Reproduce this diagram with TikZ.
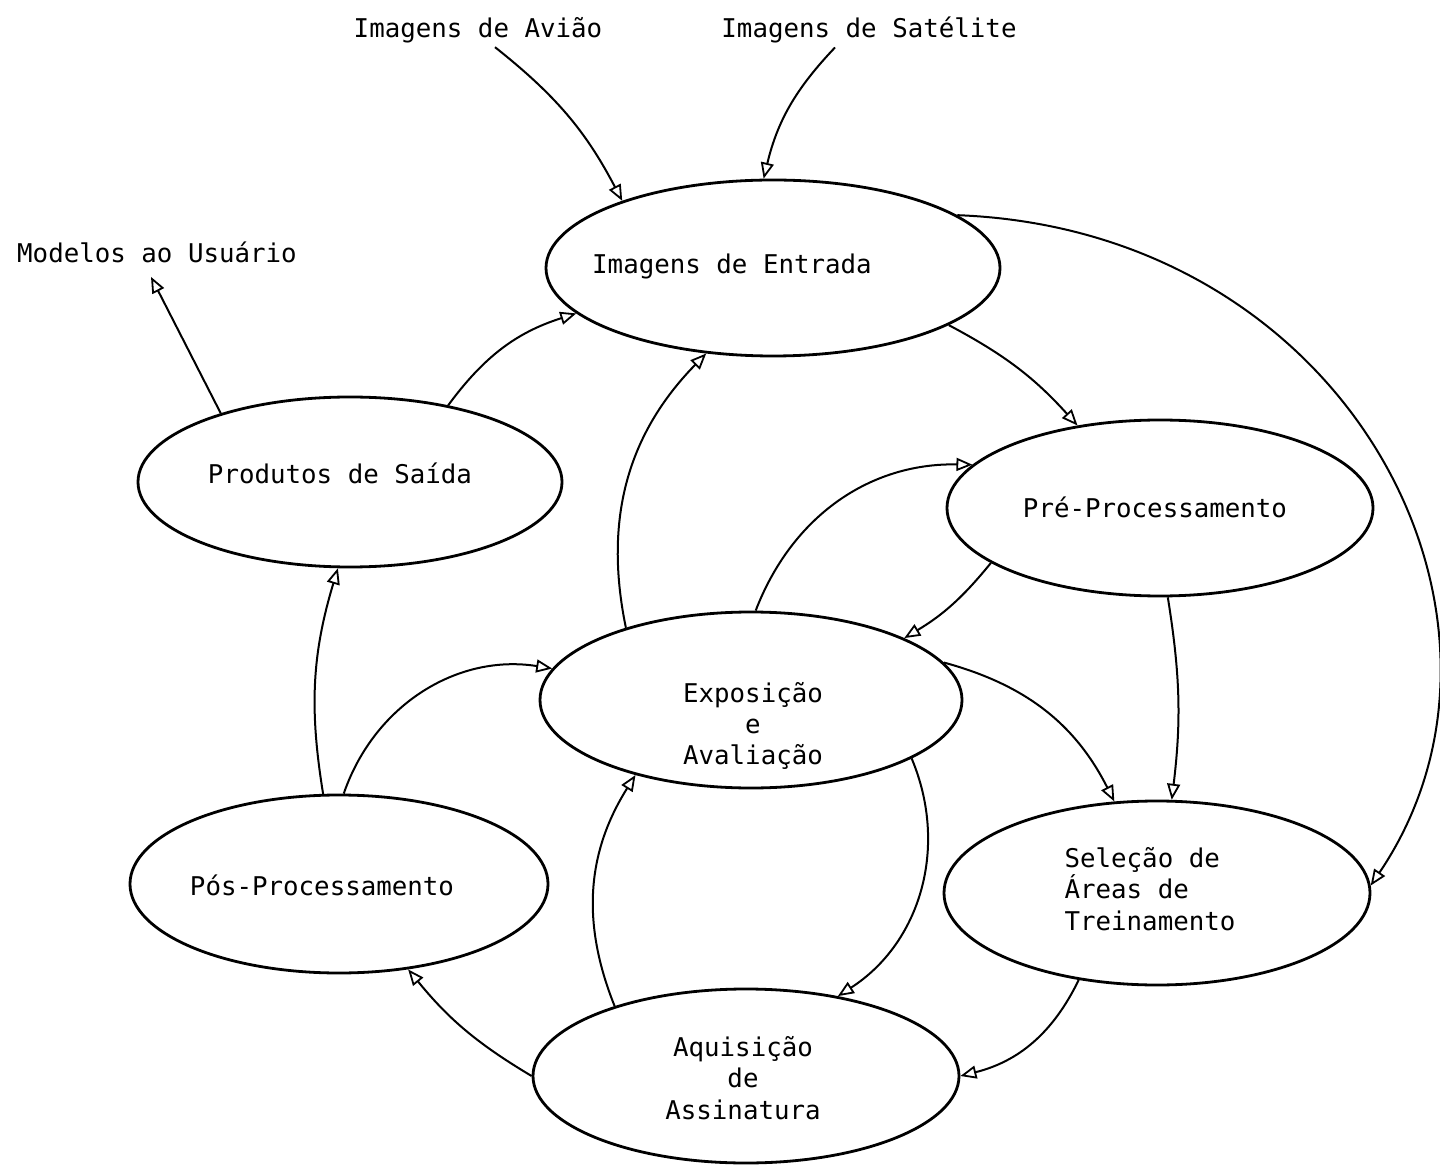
\documentclass[tikz,border=0pt]{standalone}
\usepackage{fontspec}
\setmonofont{DejaVu Sans Mono}
\usetikzlibrary{shapes.geometric,arrows.meta,calc}
\begin{document}
\begin{tikzpicture}[x=0.5pt,y=-0.5pt,
  proc/.style={draw,ellipse,line width=1.4pt,inner sep=0pt},
  lbl/.style={font=\ttfamily\fontsize{12.9}{15.6}\selectfont,inner sep=2pt,align=center},
  flow/.style={line width=1pt,-{Triangle[open,length=8pt,width=6.5pt,line width=0.9pt]}},
]
\fill[white] (0,0) rectangle (1440,1165);
\useasboundingbox (0,0) rectangle (1440,1165);

% ellipses
\node[proc,minimum width=227pt,minimum height=88pt] (E) at (773,268) {};
\node[proc,minimum width=213pt,minimum height=88pt] (P) at (1160,508) {};
\node[proc,minimum width=212pt,minimum height=85pt] (S) at (350,482) {};
\node[proc,minimum width=211pt,minimum height=88pt] (X) at (751,700) {};
\node[proc,minimum width=213pt,minimum height=92pt] (T) at (1157,893) {};
\node[proc,minimum width=213pt,minimum height=87pt] (A) at (746,1076) {};
\node[proc,minimum width=209pt,minimum height=89pt] (O) at (339,884) {};

% texts
\node[lbl] (tE) at (732,266) {Imagens de Entrada};
\node[lbl] (tP) at (1155,507) {Pré-Processamento};
\node[lbl] (tS) at (340,473) {Produtos de Saída};
\node[lbl] (tX) at (753,726) {Exposição\\e\\Avaliação};
\node[lbl,align=left] (tT) at (1150,889) {Seleção de\\Áreas de\\Treinamento};
\node[lbl] (tA) at (743,1078) {Aquisição\\de\\Assinatura};
\node[lbl] (tO) at (322,885) {Pós-Processamento};
\node[lbl] (V) at (478,30) {Imagens de Avião};
\node[lbl] (W) at (869,30) {Imagens de Satélite};
\node[lbl] (M) at (157,252) {Modelos ao Usuário};

% connectors
\draw[flow] ($(V.south)+(17,0)$) to[bend left=12] (E.156.5);
\draw[flow] ($(W.south)+(-34,0)$) to[bend right=15] (E.96.7);
\draw[flow] (E.16) .. controls (1350,230) and (1550,620) .. (T.2);
\draw[flow] (E.-18) to[bend left=10] (P.135.7);
\draw[flow] (S.38) to[bend left=18] (E.-167);
\draw[flow] (S.152) -- ($(M.south)+(-6,10)$);
\draw[flow] (X.150) to[bend left=28] (E.-128);
\draw[flow] (X.87.5) to[bend left=35] (P.167.5);
\draw[flow] (P.198) to[bend left=10] (X.22);
\draw[flow] (P.-85) to[bend left=8] (T.81);
\draw[flow] (X.11) to[bend left=24] (T.115);
\draw[flow] (X.-20) to[bend left=40] (A.41);
\draw[flow] (A.152) to[bend left=27] (X.-147);
\draw[flow] (T.-132) to[bend left=25] (A.0);
\draw[flow] (A.180) to[bend left=10] (O.-51);
\draw[flow] (O.87) to[bend left=40] (X.171);
\draw[flow] (O.100) to[bend left=13] (S.-98);
\end{tikzpicture}
\end{document}
